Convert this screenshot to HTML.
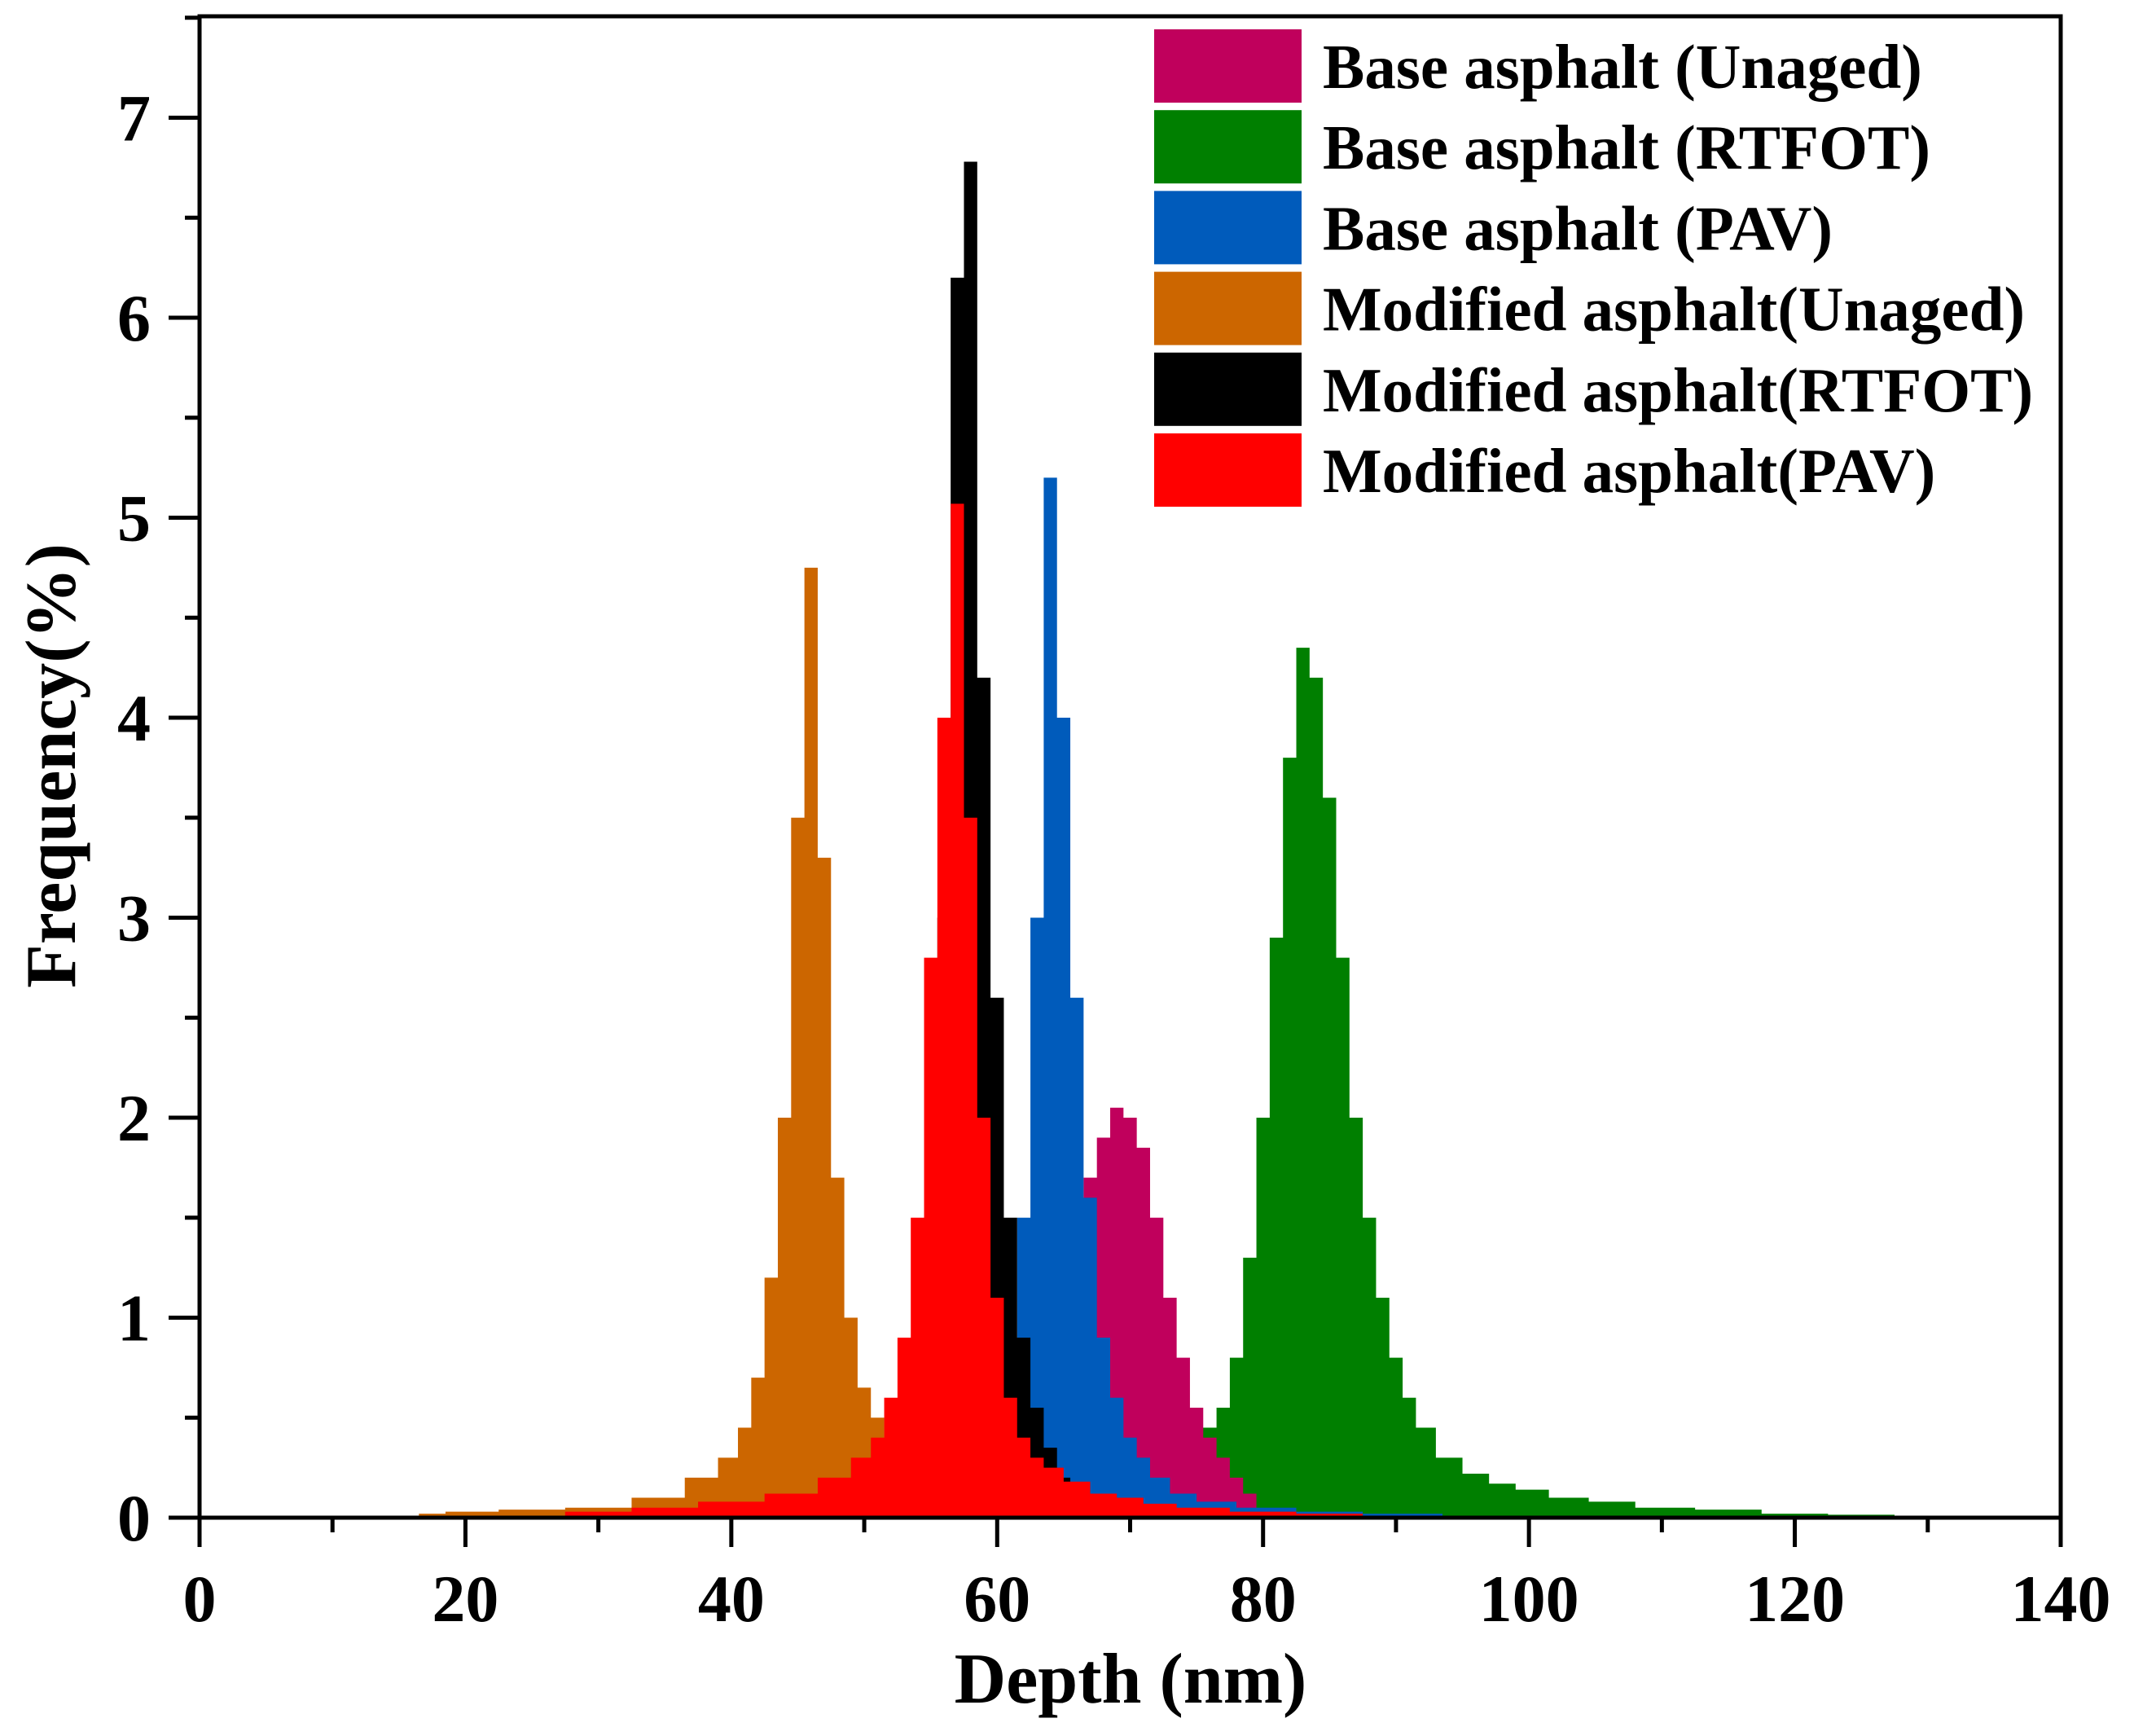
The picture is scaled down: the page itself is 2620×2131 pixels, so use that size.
<!DOCTYPE html>
<html><head><meta charset="utf-8"><style>
html,body{margin:0;padding:0;background:#fff;}
svg{display:block;}
text{font-family:"Liberation Serif",serif;font-weight:bold;fill:#000;}
</style></head><body>
<svg id="chart" width="2620" height="2131" viewBox="0 0 2620 2131" xmlns="http://www.w3.org/2000/svg">
<g id="series"></g>
<g id="axes"></g>
<g id="legend"></g>
</svg>
<script>
const xTicks=[0,20,40,60,80,100,120,140];
const yTicks=[0,1,2,3,4,5,6,7];
const seriesNames=["Base asphalt (Unaged)","Base asphalt (RTFOT)","Base asphalt (PAV)","Modified asphalt(Unaged)","Modified asphalt(RTFOT)","Modified asphalt(PAV)"];
const seriesColors=["#C0005C","#007F00","#005BBB","#CC6600","#000000","#FF0000"];
// depth (nm) and frequency (%) per series
const greenD=[70,72,74,76,77,78,79,80,81,82,83,84,85,86,87,88,89,90,91,92,94,96,98,100,103,106,110,115,120,125,130,133];
const greenF=[0.12,0.2,0.3,0.45,0.55,0.8,1.3,2.0,2.9,3.8,4.35,4.2,3.6,2.8,2.0,1.5,1.1,0.8,0.6,0.45,0.3,0.22,0.17,0.14,0.1,0.08,0.05,0.04,0.02,0.015,0.01,0.005];
const pinkD=[65,66,67,68,69,70,71,72,73,74,75,76,77,78,79];
const pinkF=[0.6,1.2,1.7,1.9,2.05,2.0,1.85,1.5,1.1,0.8,0.55,0.4,0.3,0.2,0.12];
const blueD=[60,61,62,63,64,65,66,67,68,69,70,71,72,74,76,80,85,90,97];
const blueF=[0.3,0.7,1.5,3.0,5.2,4.0,2.6,1.6,0.9,0.6,0.4,0.3,0.2,0.12,0.08,0.05,0.03,0.02,0.01];
const orangeD=[17,20,25,30,35,38,40,41,42,43,44,45,46,47,48,49,50,51,52];
const orangeF=[0.02,0.03,0.04,0.05,0.1,0.2,0.3,0.45,0.7,1.2,2.0,3.5,4.75,3.3,1.7,1.0,0.65,0.5,0.3];
const blackD=[50,52,54,55,56,57,58,59,60,61,62,63,64,65,66];
const blackF=[0.1,0.3,0.8,1.5,3.0,6.2,6.78,4.2,2.6,1.5,0.9,0.55,0.35,0.2,0.1];
const redD=[25,30,35,40,45,48,50,51,52,53,54,55,56,57,58,59,60,61,62,63,64,66,68,70,72,75,80,85,90];
const redF=[0.01,0.03,0.05,0.08,0.12,0.2,0.3,0.4,0.6,0.9,1.5,2.8,4.0,5.07,3.5,2.0,1.1,0.6,0.4,0.3,0.25,0.18,0.12,0.1,0.07,0.05,0.03,0.02,0.01];

const NS="http://www.w3.org/2000/svg";
const X0=245,X1=2530,Y0=1863,YT=20;
const xs=v=>X0+(X1-X0)*v/140;
const ys=v=>Y0-245.5*v;
function mk(tag,attrs,parent){const e=document.createElementNS(NS,tag);for(const k in attrs)e.setAttribute(k,attrs[k]);parent.appendChild(e);return e;}

const seriesG=document.getElementById('series');
function drawSeries(D,F,color,name){
  let pts=[];
  for(let i=0;i<D.length;i++){
    const l=i===0?D[i]-0.5:(D[i-1]+D[i])/2;
    const r=i===D.length-1?D[i]+0.5:(D[i]+D[i+1])/2;
    pts.push(xs(l)+','+ys(F[i]));pts.push(xs(r)+','+ys(F[i]));
  }
  const l0=D[0]-0.5,rN=D[D.length-1]+0.5;
  const d='M'+xs(l0)+','+Y0+' L'+pts.join(' L')+' L'+xs(rN)+','+Y0+' Z';
  const p=mk('path',{d:d,fill:color},seriesG);
  
  
}
drawSeries(greenD,greenF,seriesColors[1],'series-base-rtfot');
drawSeries(pinkD,pinkF,seriesColors[0],'series-base-unaged');
drawSeries(blueD,blueF,seriesColors[2],'series-base-pav');
drawSeries(orangeD,orangeF,seriesColors[3],'series-modified-unaged');
drawSeries(blackD,blackF,seriesColors[4],'series-modified-rtfot');
drawSeries(redD,redF,seriesColors[5],'series-modified-pav');

const ax=document.getElementById('axes');
const frame=mk('rect',{x:X0,y:YT,width:X1-X0,height:Y0-YT,fill:'none',stroke:'#000','stroke-width':5},ax);


for(let v=0;v<=140;v+=10){
  const major=v%20===0;
  const t=mk('line',{x1:xs(v),x2:xs(v),y1:Y0,y2:Y0+(major?36:18),stroke:'#000','stroke-width':5},ax);
  
  
}
xTicks.forEach(v=>{
  const t=mk('text',{x:xs(v),y:1990,'text-anchor':'middle','font-size':82},ax);
  t.textContent=v;
  
  
});
for(let v=0;v<=7.5;v+=0.5){
  const major=Math.abs(v-Math.round(v))<1e-6;
  const t=mk('line',{x1:X0-(major?38:18),x2:X0,y1:ys(v),y2:ys(v),stroke:'#000','stroke-width':5},ax);
  
  
}
yTicks.forEach(v=>{
  const t=mk('text',{x:185,y:ys(v)+28,'text-anchor':'end','font-size':82},ax);
  t.textContent=v;
  
  
});
const xt=mk('text',{x:1388,y:2090,'text-anchor':'middle','font-size':88},ax);
xt.textContent='Depth (nm)';


const yt=mk('text',{x:0,y:0,'text-anchor':'middle','font-size':88,transform:'translate(92,940) rotate(-90)'},ax);
yt.textContent='Frequency(%)';



const lg=document.getElementById('legend');
seriesNames.forEach((n,i)=>{
  const top=36+i*99.2;
  const g=mk('g',{},lg);
  
  
  const r=mk('rect',{x:1417,y:top,width:181,height:90,fill:seriesColors[i]},g);
  
  
  const t=mk('text',{x:1624,y:top+72,'font-size':77},g);
  t.textContent=n;
  
  
});
</script>
</body></html>
